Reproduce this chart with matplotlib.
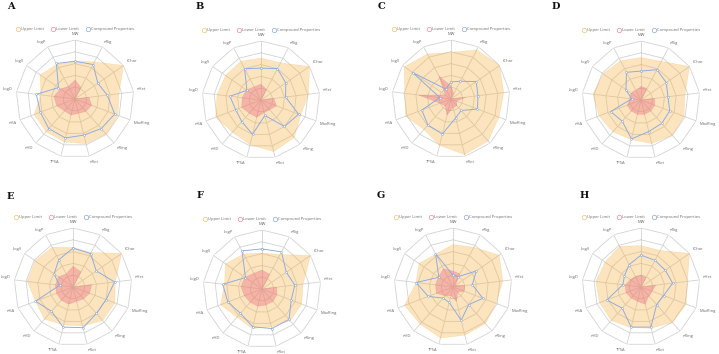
import numpy as np
import matplotlib.pyplot as plt
from matplotlib.lines import Line2D

plt.rcParams['font.family'] = ['Open Sans', 'DejaVu Sans']

props = ['MW', 'nRig', 'fChar', 'nHet', 'MaxRing', 'nRing', 'nRot',
         'TPSA', 'nHD', 'nHA', 'LogD', 'LogS', 'LogP']
panel_names = ['A', 'B', 'C', 'D', 'E', 'F', 'G', 'H']
legend_names = ['Upper Limit', 'Lower Limit', 'Compound Properties']

# values normalised to the radar scale (0 = centre, 1 = outer ring)
upper_a = [0.64, 0.71, 1.0, 0.75, 0.78, 0.79, 0.78, 0.75, 0.74, 0.74, 0.58, 0.72, 0.66]
lower_a = [0.32, 0.22, 0.0, 0.24, 0.30, 0.28, 0.25, 0.28, 0.27, 0.33, 0.36, 0.30, 0.24]
comp_a = [0.64, 0.66, 0.47, 0.55, 0.72, 0.67, 0.63, 0.68, 0.67, 0.63, 0.66, 0.34, 0.68]

upper_b = [0.71, 0.71, 1.0, 0.81, 0.72, 0.85, 0.90, 0.78, 0.73, 0.82, 0.75, 0.73, 0.74]
lower_b = [0.27, 0.20, 0.0, 0.22, 0.28, 0.22, 0.22, 0.30, 0.30, 0.35, 0.32, 0.30, 0.25]
comp_b = [0.54, 0.60, 0.51, 0.42, 0.68, 0.60, 0.27, 0.60, 0.49, 0.46, 0.53, 0.29, 0.60]

upper_c = [0.79, 0.94, 1.0, 0.90, 0.87, 0.95, 0.97, 0.81, 0.69, 0.82, 0.79, 0.96, 0.86]
lower_c = [0.22, 0.10, 0.0, 0.25, 0.10, 0.15, 0.15, 0.28, 0.15, 0.20, 0.55, 0.12, 0.44]
comp_c = [0.29, 0.34, 0.52, 0.46, 0.48, 0.26, 0.33, 0.61, 0.59, 0.53, 0.19, 0.79, 0.19]

upper_d = [0.72, 0.74, 1.0, 0.75, 0.78, 0.80, 0.76, 0.69, 0.72, 0.76, 0.82, 0.78, 0.75]
lower_d = [0.23, 0.22, 0.0, 0.23, 0.25, 0.25, 0.25, 0.25, 0.25, 0.25, 0.18, 0.20, 0.18]
comp_d = [0.49, 0.58, 0.52, 0.46, 0.52, 0.53, 0.55, 0.68, 0.48, 0.55, 0.16, 0.31, 0.53]

upper_e = [0.67, 0.66, 1.0, 0.72, 0.76, 0.76, 0.68, 0.66, 0.73, 0.68, 0.78, 0.78, 0.76]
lower_e = [0.35, 0.29, 0.0, 0.32, 0.30, 0.27, 0.25, 0.30, 0.30, 0.30, 0.30, 0.30, 0.25]
comp_e = [0.66, 0.64, 0.48, 0.71, 0.60, 0.60, 0.71, 0.70, 0.55, 0.68, 0.23, 0.39, 0.52]

upper_f = [0.61, 0.66, 1.0, 0.70, 0.72, 0.72, 0.66, 0.69, 0.64, 0.75, 0.64, 0.75, 0.67]
lower_f = [0.32, 0.28, 0.0, 0.25, 0.27, 0.28, 0.28, 0.30, 0.30, 0.32, 0.36, 0.35, 0.30]
comp_f = [0.68, 0.71, 0.50, 0.56, 0.53, 0.69, 0.69, 0.66, 0.55, 0.62, 0.67, 0.34, 0.73]

upper_g = [0.72, 0.76, 0.95, 0.85, 0.78, 0.83, 0.84, 0.89, 0.84, 0.88, 0.63, 0.70, 0.63]
lower_g = [0.27, 0.25, 0.05, 0.20, 0.20, 0.12, 0.25, 0.15, 0.20, 0.30, 0.30, 0.30, 0.35]
comp_g = [0.20, 0.20, 0.48, 0.33, 0.54, 0.40, 0.58, 0.27, 0.25, 0.45, 0.63, 0.29, 0.64]

upper_h = [0.70, 0.70, 1.0, 0.79, 0.82, 0.80, 0.72, 0.71, 0.76, 0.75, 0.77, 0.74, 0.78]
lower_h = [0.20, 0.18, 0.0, 0.25, 0.20, 0.20, 0.30, 0.25, 0.25, 0.27, 0.27, 0.22, 0.20]
comp_h = [0.54, 0.51, 0.50, 0.54, 0.41, 0.40, 0.70, 0.70, 0.48, 0.62, 0.31, 0.34, 0.43]

uppers = [upper_a, upper_b, upper_c, upper_d, upper_e, upper_f, upper_g, upper_h]
lowers = [lower_a, lower_b, lower_c, lower_d, lower_e, lower_f, lower_g, lower_h]
comps = [comp_a, comp_b, comp_c, comp_d, comp_e, comp_f, comp_g, comp_h]

W, H = 719, 354
R = 59
# radar centres and panel letter positions in pixels (from top-left)
centres = [(75, 99), (261, 100), (451, 99), (641, 100),
           (73, 287), (262, 289), (453, 287), (641, 287)]
letter_pos = [(7, 2), (196, 2), (378, 2), (552, 2),
              (7, 192), (197, 191), (377, 191), (580, 191)]

c_up = '#f6b54b'
c_low = '#ea6c84'
c_comp = '#8aa9e2'
c_grid = '#d2d2d2'
c_text = '#6a6a6a'

fig = plt.figure(figsize=(W / 100, H / 100), dpi=100)

n = len(props)
theta = np.linspace(0, 2 * np.pi, n, endpoint=False)
theta_c = np.append(theta, theta[0])


def close(v):
    return np.append(v, v[0])


for i in range(8):
    cx, cy = centres[i]
    ax = fig.add_axes([(cx - R) / W, (H - cy - R) / H, 2 * R / W, 2 * R / H],
                      projection='polar')
    ax.set_theta_zero_location('N')
    ax.set_theta_direction(-1)
    ax.set_ylim(0, 1)
    ax.set_xticks([])
    ax.set_yticks([])
    ax.grid(False)
    ax.spines['polar'].set_visible(False)
    ax.patch.set_alpha(0)

    # polygon grid
    for r in [0.2, 0.4, 0.6, 0.8, 1.0]:
        ax.plot(theta_c, [r] * (n + 1), color=c_grid, lw=0.6, zorder=1)
    for t in theta:
        ax.plot([t, t], [0, 1], color=c_grid, lw=0.6, zorder=1)

    up = close(uppers[i])
    low = close(lowers[i])
    cp = close(comps[i])
    ax.fill(theta_c, up, color=c_up, alpha=0.36, lw=0, zorder=2)
    ax.plot(theta_c, up, color=c_up, alpha=0.4, lw=0.3, zorder=2)
    ax.fill(theta_c, low, color=c_low, alpha=0.4, lw=0, zorder=3)
    ax.plot(theta_c, low, color=c_low, alpha=0.4, lw=0.3, zorder=3)
    ax.plot(theta_c, cp, color=c_comp, lw=0.65, zorder=4,
            marker='o', markersize=1.3, markerfacecolor='white',
            markeredgecolor=c_comp, markeredgewidth=0.4)

    # axis names, echarts style alignment
    for t, name in zip(theta, props):
        s, c = np.sin(t), np.cos(t)
        ha = 'center' if abs(s) < 0.1 else ('left' if s > 0 else 'right')
        va = 'center' if abs(c) < 0.1 else ('bottom' if c > 0 else 'top')
        ax.text(t, 1.06, name, ha=ha, va=va, fontsize=3.0, color=c_text)

    handles = [Line2D([], [], marker='o', linestyle='none', markersize=3.2,
                      markerfacecolor='none', markeredgecolor=col,
                      markeredgewidth=0.5)
               for col in ['#f5c46e', '#f08a9c', c_comp]]
    leg = ax.legend(handles, legend_names, loc='center',
                    bbox_to_anchor=(0.5, 1.09), ncol=3, frameon=False,
                    fontsize=3.0, handletextpad=0.3, columnspacing=1.6,
                    handlelength=1.0, borderaxespad=0)
    for txt in leg.get_texts():
        txt.set_color(c_text)

    lx, ly = letter_pos[i]
    fig.text(lx / W, 1 - ly / H, panel_names[i], ha='left', va='top',
             fontsize=7, fontweight='bold', family='DejaVu Serif',
             color='#111111')

fig.savefig('out.png', dpi=100)
